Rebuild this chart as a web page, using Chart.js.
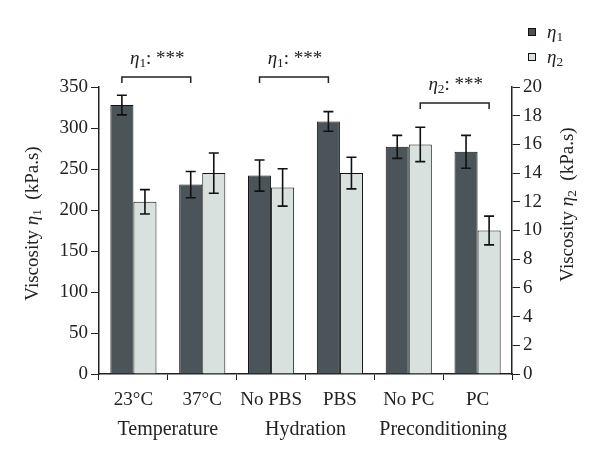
<!DOCTYPE html>
<html>
<head>
<meta charset="utf-8">
<script src="https://cdn.jsdelivr.net/npm/chart.js@4/dist/chart.umd.min.js"></script>
<style>
  html, body { margin: 0; padding: 0; background: #fff; }
  #wrap { width: 600px; height: 460px; position: relative; }
</style>
</head>
<body>
<div id="wrap"><canvas id="c" width="600" height="460"></canvas></div>
<script>
const categories = ['23°C', '37°C', 'No PBS', 'PBS', 'No PC', 'PC'];
const groups = ['Temperature', 'Hydration', 'Preconditioning'];
const eta1 = [328, 231, 242, 308, 277, 271];
const eta1Err = [12, 16, 19, 12, 14, 20];
const eta2 = [12.0, 14.0, 13.0, 14.0, 16.0, 10.0];
const eta2Err = [0.85, 1.4, 1.3, 1.1, 1.2, 1.0];
const leftAxis = { min: 0, max: 350, step: 50 };
const rightAxis = { min: 0, max: 20, step: 2 };
// significance brackets: [dataset index, from category, to category, label subscript]
const brackets = [
  { ds: 0, from: 0, to: 1, sub: '1' },
  { ds: 0, from: 2, to: 3, sub: '1' },
  { ds: 1, from: 4, to: 5, sub: '2' }
];

const FONT = '"Liberation Serif", "Times New Roman", serif';
const TXT = '#222';

function richWidth(ctx, parts, size) {
  let w = 0;
  for (const p of parts) {
    const s = p.sub ? size * 0.7 : size;
    ctx.font = (p.italic ? 'italic ' : '') + s + 'px ' + FONT;
    w += ctx.measureText(p.t).width;
  }
  return w;
}
function drawRich(ctx, parts, x, y, size, align) {
  const w = richWidth(ctx, parts, size);
  let cx = align === 'left' ? x : x - w / 2;
  ctx.textBaseline = 'middle';
  ctx.textAlign = 'left';
  ctx.fillStyle = TXT;
  for (const p of parts) {
    const s = p.sub ? size * 0.7 : size;
    ctx.font = (p.italic ? 'italic ' : '') + s + 'px ' + FONT;
    ctx.fillText(p.t, cx, p.sub ? y + size * 0.25 : y);
    cx += ctx.measureText(p.t).width;
  }
}

const extras = {
  id: 'extras',
  afterDatasetsDraw(chart) {
    const ctx = chart.ctx;
    const yL = chart.scales.y, yR = chart.scales.y2, xs = chart.scales.x;
    ctx.save();
    // error bars
    const sets = [[eta1, eta1Err, yL], [eta2, eta2Err, yR]];
    sets.forEach(([vals, errs, sc], di) => {
      const meta = chart.getDatasetMeta(di);
      ctx.strokeStyle = '#111';
      ctx.lineWidth = 1.6;
      vals.forEach((v, i) => {
        const x = meta.data[i].x;
        const top = sc.getPixelForValue(v + errs[i]);
        const bot = sc.getPixelForValue(v - errs[i]);
        ctx.beginPath();
        ctx.moveTo(x, top); ctx.lineTo(x, bot);
        ctx.moveTo(x - 5, top); ctx.lineTo(x + 5, top);
        ctx.moveTo(x - 5, bot); ctx.lineTo(x + 5, bot);
        ctx.stroke();
      });
    });
    // brackets
    ctx.lineWidth = 1.5;
    ctx.strokeStyle = '#222';
    brackets.forEach((b) => {
      const meta = chart.getDatasetMeta(b.ds);
      const x1 = meta.data[b.from].x, x2 = meta.data[b.to].x;
      const yb = b.ds === 0 ? chart.chartArea.top - 10 : chart.chartArea.top + 16;
      ctx.beginPath();
      ctx.moveTo(x1, yb + 6); ctx.lineTo(x1, yb); ctx.lineTo(x2, yb); ctx.lineTo(x2, yb + 6);
      ctx.stroke();
      drawRich(ctx, [{ t: 'η', italic: true }, { t: b.sub, sub: true }, { t: ': ***' }], (x1 + x2) / 2 + 1, yb - 18, 19);
    });
    // group labels
    ctx.fillStyle = TXT;
    ctx.font = '20px ' + FONT;
    ctx.textAlign = 'center';
    ctx.textBaseline = 'middle';
    groups.forEach((g, gi) => {
      const xm = (xs.getPixelForValue(gi * 2) + xs.getPixelForValue(gi * 2 + 1)) / 2;
      ctx.fillText(g, xm, 430);
    });
    // axis titles
    ctx.save();
    ctx.translate(33, (chart.chartArea.top + chart.chartArea.bottom) / 2 - 7);
    ctx.rotate(-Math.PI / 2);
    drawRich(ctx, [{ t: 'Viscosity ' }, { t: 'η', italic: true }, { t: '1', sub: true }, { t: '  (kPa.s)' }], 0, 0, 19);
    ctx.restore();
    ctx.save();
    ctx.translate(568, (chart.chartArea.top + chart.chartArea.bottom) / 2 - 26);
    ctx.rotate(-Math.PI / 2);
    drawRich(ctx, [{ t: 'Viscosity ' }, { t: 'η', italic: true }, { t: '2', sub: true }, { t: '  (kPa.s)' }], 0, 0, 19);
    ctx.restore();
    // legend
    const leg = [['1', chart.data.datasets[0].backgroundColor], ['2', chart.data.datasets[1].backgroundColor]];
    leg.forEach(([s, col], i) => {
      const yc = 32 + i * 25;
      ctx.fillStyle = col;
      ctx.fillRect(528, yc - 4, 8, 8);
      ctx.strokeStyle = '#111';
      ctx.lineWidth = 1;
      ctx.strokeRect(528.5, yc - 3.5, 7, 7);
      drawRich(ctx, [{ t: 'η', italic: true }, { t: s, sub: true }], 547, yc + 1, 19, 'left');
    });
    ctx.restore();
  }
};

new Chart(document.getElementById('c'), {
  type: 'bar',
  data: {
    labels: categories,
    datasets: [
      { label: 'η1', data: eta1, yAxisID: 'y', backgroundColor: '#4a5459', borderColor: '#111', borderWidth: 1 },
      { label: 'η2', data: eta2, yAxisID: 'y2', backgroundColor: '#d9e1df', borderColor: '#111', borderWidth: 1 }
    ]
  },
  options: {
    responsive: false,
    animation: false,
    events: [],
    layout: { padding: { top: 87, left: 0, right: 0, bottom: 0 } },
    plugins: { legend: { display: false }, tooltip: { enabled: false } },
    datasets: { bar: { categoryPercentage: 0.67, barPercentage: 1.0 } },
    scales: {
      x: {
        offset: true,
        grid: { offset: true, drawOnChartArea: false, drawTicks: true, tickLength: 6, color: '#222' },
        border: { color: '#222', width: 1.5 },
        ticks: { color: TXT, font: { family: FONT, size: 19 }, padding: 9, maxRotation: 0, autoSkip: false },
        afterFit: s => { s.height = 86; }
      },
      y: {
        position: 'left',
        min: leftAxis.min, max: leftAxis.max,
        grid: { drawOnChartArea: false, drawTicks: true, tickLength: 8, color: '#222' },
        border: { color: '#222', width: 1.5 },
        ticks: { stepSize: leftAxis.step, color: TXT, font: { family: FONT, size: 19 }, padding: 3 },
        afterFit: s => { s.width = 99; }
      },
      y2: {
        position: 'right',
        min: rightAxis.min, max: rightAxis.max,
        grid: { drawOnChartArea: false, drawTicks: true, tickLength: 8, color: '#222' },
        border: { color: '#222', width: 1.5 },
        ticks: { stepSize: rightAxis.step, color: TXT, font: { family: FONT, size: 19 }, padding: 3 },
        afterFit: s => { s.width = 88; }
      }
    }
  },
  plugins: [extras]
});
</script>
</body>
</html>
